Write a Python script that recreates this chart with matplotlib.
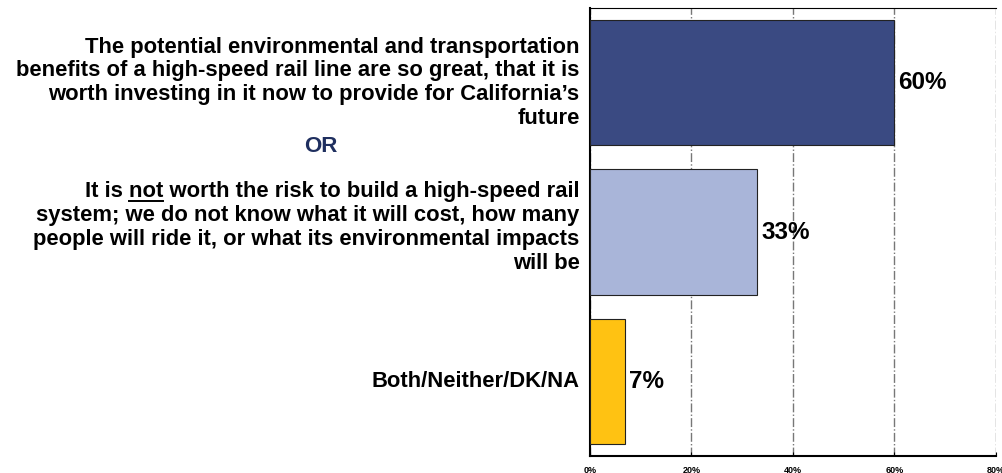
import numpy as np
import matplotlib.pyplot as plt

plt.rcParams['font.family'] = ['Liberation Sans', 'DejaVu Sans']

labels = [
    "The potential environmental and transportation\nbenefits of a high-speed rail line are so great, that it is\nworth investing in it now to provide for California\u2019s\nfuture",
    "It is not worth the risk to build a high-speed rail\nsystem; we do not know what it will cost, how many\npeople will ride it, or what its environmental impacts\nwill be",
    "Both/Neither/DK/NA",
]
values = [60, 33, 7]
colors = ['#3A4A82', '#A9B5D9', '#FFC212']
xticks = [0, 20, 40, 60, 80]
xtick_labels = ['0%', '20%', '40%', '60%', '80%']

LFS = 15.8

fig = plt.figure(figsize=(10.03, 4.73), dpi=100)
ax = fig.add_axes([0.588, 0.036, 0.405, 0.947])

ypos = np.arange(len(values))
ax.barh(ypos, values, height=0.84, color=colors, edgecolor='#222222', linewidth=0.8, zorder=3)
ax.set_ylim(len(values) - 0.5, -0.5)
ax.set_xlim(0, 80)
ax.set_yticks([])
ax.set_xticks(xticks)
ax.set_xticklabels(xtick_labels, fontsize=6.5, fontweight='bold')
ax.tick_params(axis='x', direction='in', length=3, pad=7)
ax.grid(axis='x', linestyle='-.', color='#777777', linewidth=1.0, zorder=0)
for s in ['left', 'bottom']:
    ax.spines[s].set_linewidth(1.5)
ax.spines['top'].set_linewidth(0.8)
ax.spines['right'].set_visible(False)

for y, v in zip(ypos, values):
    ax.text(v + 0.8, y, f"{v}%", va='center', ha='left', fontsize=17.5, fontweight='bold', zorder=4)

# category statements on the left (second one sits a bit higher in the original)
nudge = [0.0, -0.03, 0.0]
txts = []
for y, lab, dy in zip(ypos, labels, nudge):
    t = ax.text(-0.025, y + dy, lab, transform=ax.get_yaxis_transform(), ha='right', va='center',
                fontsize=LFS, fontweight='bold', linespacing=1.17,
                multialignment='right')
    txts.append(t)

ax.text(-53, 0.43, "OR", transform=ax.transData, ha='center', va='center',
        fontsize=16, fontweight='bold', color='#1F2F5F', clip_on=False)

# underline "not" in the second statement
fig.canvas.draw()
r = fig.canvas.get_renderer()
t2 = txts[1]
bb = t2.get_window_extent(r)
first = labels[1].split("\n")[0]
def wid(s):
    tt = fig.text(0, 0, s, fontsize=LFS, fontweight='bold')
    w = tt.get_window_extent(r).width
    tt.remove()
    return w
line_left = bb.x1 - wid(first)
x0 = line_left + wid("It is ")
x1 = x0 + wid("not")
line_h = bb.height / 4
yl = bb.y1 - line_h * 0.85
fig.add_artist(plt.Line2D([x0 / fig.bbox.width, x1 / fig.bbox.width],
                          [yl / fig.bbox.height, yl / fig.bbox.height],
                          color='black', linewidth=1.4))

fig.savefig("out.png", dpi=100)
